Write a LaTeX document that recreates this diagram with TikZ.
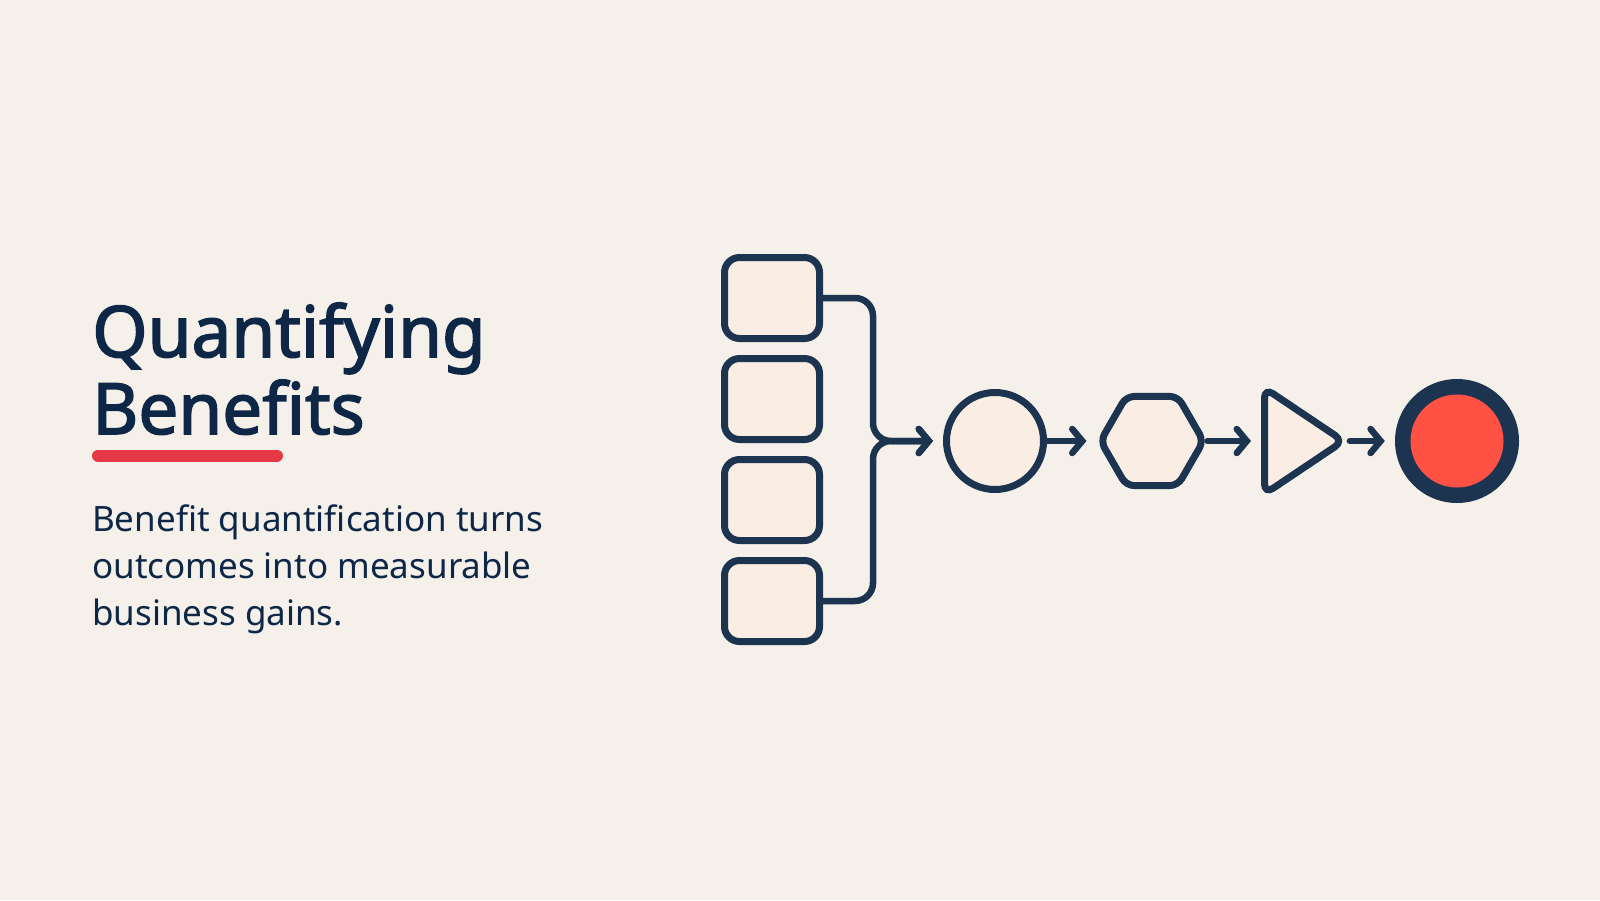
\documentclass[tikz,border=0pt]{standalone}
\usepackage{fontspec}
\setmainfont{Noto Sans}
\newfontfamily\titlefont{Noto Sans}[FakeBold=2.2]
\usetikzlibrary{shapes.geometric}
\usetikzlibrary{arrows.meta}
\definecolor{paper}{HTML}{F5F1EA}
\definecolor{ink}{HTML}{1C3450}
\definecolor{txt}{HTML}{0E2747}
\definecolor{peach}{HTML}{FAEDE3}
\definecolor{accent}{HTML}{E63946}
\definecolor{stopred}{HTML}{FF5244}
\tikzset{srcbox/.style={draw=ink, fill=peach, line width=7pt, rounded corners=15pt,
  minimum width=95pt, minimum height=81pt, inner sep=0pt},
% connectors with an open chevron tip
wire/.style={draw=ink, line width=6.5pt, line cap=round, line join=round,
  -{Straight Barb[length=10pt,width=24pt,line cap=round]}, shorten >=10pt},
stage/.style={draw=ink, fill=peach, line width=7pt, inner sep=0pt}}

\begin{document}
\begin{tikzpicture}[x=1pt,y=-1pt]
\fill[paper] (0,0) rectangle (1600,900);
\useasboundingbox (0,0) rectangle (1600,900);

% title and text (base = last line)
\node[anchor=base west, inner sep=0pt, text=txt, align=left,
  font=\fontsize{71}{77}\titlefont] (title) at (92,434) {Quantifying\\Benefits};
\draw[accent, line width=12pt, line cap=round] (98,455.5) -- (277,455.5);
\node[anchor=base west, inner sep=0pt, text=txt, align=left,
  font=\fontsize{35}{47}\selectfont] (blurb) at (92,625)
  {Benefit quantification turns\\outcomes into measurable\\business gains.};

% inputs
\foreach \i/\y in {1/298,2/399,3/500,4/601}
  \node[srcbox] (src\i) at (772,\y) {};

% pipeline
\node[stage, circle, minimum size=97pt] (circ) at (995,441) {};
\node[stage, regular polygon, regular polygon sides=6, minimum size=103pt,
  rounded corners=8pt] (hex) at (1152,441) {};
\node[stage, isosceles triangle, isosceles triangle apex angle=67,
  isosceles triangle stretches, minimum width=106pt, minimum height=79pt,
  rounded corners=10pt, anchor=west] (tri) at (1261,441) {};
\node[circle, fill=ink, minimum size=124pt, inner sep=0pt] (stop) at (1457,441) {};
\node[circle, fill=stopred, minimum size=93pt, inner sep=0pt] (stopin) at (stop) {};

\coordinate (jn) at (873,441);
\draw[wire, rounded corners=18pt] (src1.east) -| (jn) -- (circ.west);
\draw[wire, rounded corners=18pt] (src4.east) -| (jn) -- (circ.west);
\draw[wire] (circ) -- (hex);
\draw[wire] (hex) -- (tri);
\draw[wire] (tri.apex) -- (stop);

\end{tikzpicture}
\end{document}
